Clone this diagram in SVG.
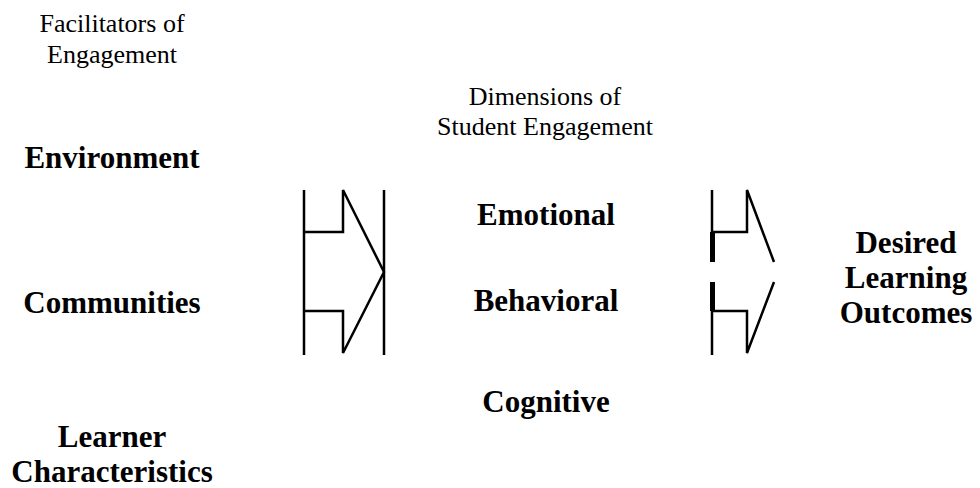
<svg xmlns="http://www.w3.org/2000/svg" width="980" height="488" viewBox="0 0 980 488">
<style>
.h{font-size:26px;fill:#000;text-anchor:middle}
.b{font-size:31px;font-weight:bold;fill:#000;text-anchor:middle}
.ln{fill:none;stroke:#000;stroke-width:2.5;stroke-linejoin:miter}
</style>
<rect width="980" height="488" fill="#fff"/>
<g font-family="Liberation Serif, DejaVu Serif, serif">
<g id="header-facilitators"><text class="h" x="112" y="32">Facilitators of</text><text class="h" x="112" y="63">Engagement</text></g>
<g id="header-dimensions"><text class="h" x="545" y="105">Dimensions of</text><text class="h" x="545" y="135">Student Engagement</text></g>
<g id="node-environment"><text class="b" x="112" y="168">Environment</text></g>
<g id="node-communities"><text class="b" x="112" y="313">Communities</text></g>
<g id="node-learner"><text class="b" x="112" y="447">Learner</text><text class="b" x="112" y="482">Characteristics</text></g>
<g id="node-emotional"><text class="b" x="546" y="225">Emotional</text></g>
<g id="node-behavioral"><text class="b" x="546" y="311">Behavioral</text></g>
<g id="node-cognitive"><text class="b" x="546" y="412">Cognitive</text></g>
<g id="node-outcomes"><text class="b" x="906" y="253">Desired</text><text class="b" x="906" y="288">Learning</text><text class="b" x="906" y="323">Outcomes</text></g>
</g>
<g id="connectors">
<path class="ln" d="M304,190 V355 M384,190 V355"/>
<path class="ln" d="M304,232 H343 V190 L384,272 L343,353 V311 H304"/>
<path class="ln" d="M712,190 V262 M712,232 H747 V190 L774,262"/>
<path class="ln" d="M712,282 V355 M712,311 H747 V353 L774,282"/>
<rect x="710" y="232" width="5" height="30" fill="#000"/>
<rect x="710" y="282" width="5" height="29" fill="#000"/>
</g>
</svg>
